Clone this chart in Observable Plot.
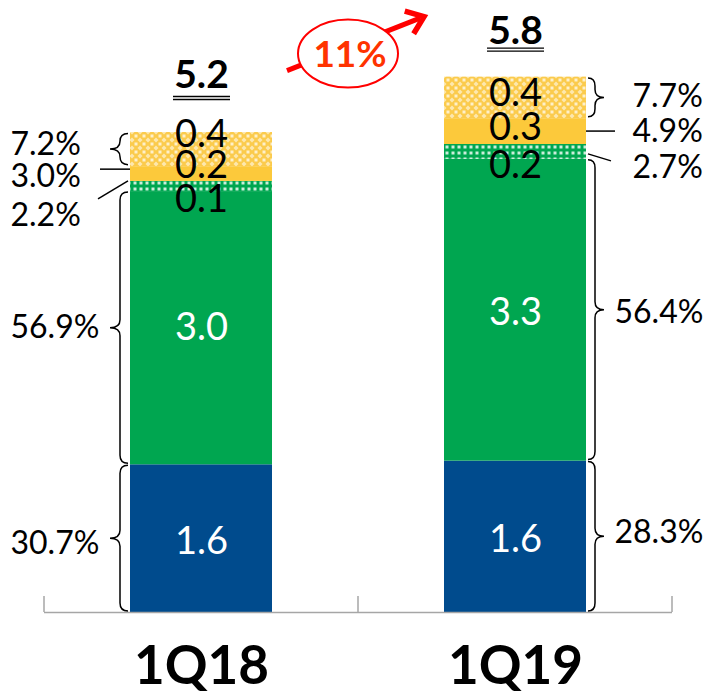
<!DOCTYPE html>
<html><head><meta charset="utf-8">
<script src="https://cdn.jsdelivr.net/npm/d3@7"></script>
<script src="https://cdn.jsdelivr.net/npm/@observablehq/plot@0.6"></script>
<style>body{margin:0;background:#fff;}</style>
</head><body><div id="chart"></div>
<script>
// ---- data ----
const categories = ["1Q18", "1Q19"];
const segments = ["Seg1", "Seg2", "Seg3", "Seg4", "Seg5"];
const values1Q18 = [1.60, 2.96, 0.11, 0.16, 0.37];
const values1Q19 = [1.64, 3.27, 0.16, 0.28, 0.45];
const valueLabels1Q18 = ["1.6", "3.0", "0.1", "0.2", "0.4"];
const valueLabels1Q19 = ["1.6", "3.3", "0.2", "0.3", "0.4"];
const shareLabels1Q18 = ["30.7%", "56.9%", "2.2%", "3.0%", "7.2%"];
const shareLabels1Q19 = ["28.3%", "56.4%", "2.7%", "4.9%", "7.7%"];
const totalValues = [5.2, 5.8];
const totalLabels = ["5.2", "5.8"];
const growthLabel = "11%";

// ---- styles ----
const fills = ["#004b8d", "#00a650", "url(#dots)", "#fcc93b", "url(#hatch)"];
const labelColors = ["white", "white", "black", "black", "black"];
const valueDy = {"1Q18": [3, 0, 13, -8, -15], "1Q19": [3, 3, 14, -4, -4]};
const shareDy = {"1Q18": [5, 0, 29, 3, -5], "1Q19": [-4, 3, 16, 0, -1]};
const shareDx = {"1Q18": [-191, -191, -191, -191, -191], "1Q19": [99, 99, 117, 117, 117]};
const totalDy = {"1Q18": -57, "1Q19": -46};
const underlineDy = {"1Q18": -36, "1Q19": -29};
const FONT = "Lato, 'Open Sans', sans-serif";

const series = {
  "1Q18": {values: values1Q18, labels: valueLabels1Q18, shares: shareLabels1Q18},
  "1Q19": {values: values1Q19, labels: valueLabels1Q19, shares: shareLabels1Q19}
};
const rows = [];
categories.forEach(cat => {
  let acc = 0;
  series[cat].values.forEach((v, i) => {
    rows.push({cat, seg: segments[i], i, value: v, y1: acc, y2: acc + v, mid: acc + v / 2,
      label: series[cat].labels[i], share: series[cat].shares[i]});
    acc += v;
  });
});
const totals = categories.map((cat, i) => ({cat, value: totalValues[i], label: totalLabels[i]}));

const plot = Plot.plot({
  width: 709, height: 694,
  marginLeft: 44, marginRight: 37, marginTop: 0, marginBottom: 82,
  style: {fontFamily: FONT, background: "white", overflow: "visible"},
  x: {domain: categories, paddingInner: 0.548, paddingOuter: 0.274, axis: null},
  y: {domain: [0, 6.63], axis: null},
  color: {domain: segments, range: fills},
  marks: [
    Plot.barY(rows, {x: "cat", y1: "y1", y2: "y2", fill: "seg"}),
    Plot.ruleY([0], {stroke: "#a6a6a6", strokeWidth: 1.5}),
    ...rows.map(r => Plot.text([r], {x: "cat", y: "mid", text: "label", fill: labelColors[r.i],
      fontSize: 38, dy: valueDy[r.cat][r.i]})),
    ...rows.map(r => Plot.text([r], {x: "cat", y: "mid", text: "share", fill: "black", textAnchor: "start",
      fontSize: 32, dx: shareDx[r.cat][r.i], dy: shareDy[r.cat][r.i]})),
    ...totals.map(t => Plot.text([t], {x: "cat", y: "value", text: "label", fill: "black",
      fontSize: 39, fontWeight: "bold", dy: totalDy[t.cat]})),
    ...totals.flatMap(t => [0, 3].map(off => Plot.tickY([t], {x: "cat", y: "value", stroke: "black",
      strokeWidth: 1.3, insetLeft: 43, insetRight: 42, dy: underlineDy[t.cat] + off}))),
    Plot.text(categories, {x: d => d, text: d => d, frameAnchor: "bottom", dy: 56,
      fontSize: 53, fontWeight: "bold", fill: "black", lineAnchor: "top", dy: 34})
  ]
});
document.getElementById("chart").appendChild(plot);

// ---- patterns ----
const svg = d3.select(plot);
const defs = svg.insert("defs", ":first-child");
const hatch = defs.append("pattern").attr("id", "hatch").attr("patternUnits", "userSpaceOnUse")
  .attr("width", 8).attr("height", 8);
hatch.append("rect").attr("width", 8).attr("height", 8).attr("fill", "#fbcb4c");
hatch.append("path").attr("d", "M4,1.5L6.5,4L4,6.5L1.5,4Z").attr("fill", "white").attr("opacity", 0.55);
hatch.append("path").attr("d", "M0,0h1.5v1.5h-1.5ZM6.5,0h1.5v1.5h-1.5ZM0,6.5h1.5v1.5h-1.5ZM6.5,6.5h1.5v1.5h-1.5Z")
  .attr("fill", "white").attr("opacity", 0.7);
const dots = defs.append("pattern").attr("id", "dots").attr("patternUnits", "userSpaceOnUse")
  .attr("width", 6).attr("height", 6);
dots.append("rect").attr("width", 6).attr("height", 6).attr("fill", "#00a650");
dots.append("rect").attr("x", 1.5).attr("y", 1.5).attr("width", 3).attr("height", 3).attr("fill", "white").attr("opacity", 0.8);

// ---- annotations via the plot's scales ----
const sx = plot.scale("x"), sy = plot.scale("y");
const bw = sx.bandwidth, step = sx.step, gap = (step - bw) / 2;
const y0 = sy.apply(0);
const ann = svg.append("g").attr("fill", "none").attr("stroke", "black").attr("stroke-width", 1.5);
// axis separator ticks
const bounds = categories.map(c => sx.apply(c) - gap)
  .concat([sx.apply(categories[categories.length - 1]) + bw + gap]);
bounds.forEach(b => svg.append("line").attr("x1", b).attr("x2", b).attr("y1", y0).attr("y2", y0 - 16)
  .attr("stroke", "#a6a6a6").attr("stroke-width", 1.5));

function brace(xe, xb, xt, ya, yb) {
  const r = Math.min(8, (yb - ya) / 4), ym = (ya + yb) / 2;
  return `M${xe},${ya}Q${xb},${ya} ${xb},${ya + r}L${xb},${ym - r}Q${xb},${ym} ${xt},${ym}` +
    `Q${xb},${ym} ${xb},${ym + r}L${xb},${yb - r}Q${xb},${yb} ${xe},${yb}`;
}
const left = sx.apply("1Q18");
const right = sx.apply("1Q19") + bw;
rows.forEach(r => {
  const ya = sy.apply(r.y2), yb = sy.apply(r.y1), ym = sy.apply(r.mid);
  if (r.i === 0 || r.i === 1 || r.i === 4) {
    const inset = r.i === 4 ? 1.5 : 1;
    if (r.cat === "1Q18") ann.append("path").attr("d", brace(left - 2, left - 10, left - 20, ya + inset, yb - inset));
    else ann.append("path").attr("d", brace(right + 2, right + 9, right + 18, ya + inset, yb - inset));
  } else if (r.i === 3) {
    if (r.cat === "1Q18") ann.append("line").attr("x1", left - 30).attr("x2", left).attr("y1", ya + 3).attr("y2", ya + 3);
    else ann.append("line").attr("x1", right).attr("x2", right + 29).attr("y1", ym).attr("y2", ym);
  } else if (r.i === 2) {
    if (r.cat === "1Q18") ann.append("line").attr("x1", left - 32).attr("y1", ya + 18).attr("x2", left - 2).attr("y2", ya);
    else ann.append("line").attr("x1", right + 2).attr("y1", ym + 2.5).attr("x2", right + 25).attr("y2", ym + 9.5);
  }
});

// growth annotation
const cx = sx.apply("1Q18") + bw + gap - 10;
const cy = sy.apply(totalValues[1]) - 23;
const g = svg.append("g");
const tip = [cx + 76, cy - 37], tail = [cx - 61, cy + 17];
g.append("line").attr("x1", tail[0]).attr("y1", tail[1]).attr("x2", tip[0] - 4).attr("y2", tip[1] + 1.5)
  .attr("stroke", "#ff0000").attr("stroke-width", 5);
const ang = Math.atan2(tip[1] - tail[1], tip[0] - tail[0]);
const head = [ang + Math.PI - 0.65, ang + Math.PI + 0.65].map(a => [tip[0] + 20 * Math.cos(a), tip[1] + 20 * Math.sin(a)]);
g.append("path").attr("d", `M${head[0][0]},${head[0][1]}L${tip[0]},${tip[1]}L${head[1][0]},${head[1][1]}`)
  .attr("fill", "none").attr("stroke", "#ff0000").attr("stroke-width", 5.5).attr("stroke-linejoin", "miter");
g.append("ellipse").attr("cx", cx).attr("cy", cy).attr("rx", 50).attr("ry", 34)
  .attr("fill", "white").attr("stroke", "#ff0000").attr("stroke-width", 2);
g.append("text").attr("x", cx + 2).attr("y", cy).attr("dy", "0.36em").attr("text-anchor", "middle")
  .attr("font-family", FONT).attr("font-weight", "bold").attr("font-size", 37).attr("fill", "#ff3300")
  .text(growthLabel);
</script>
</body></html>
